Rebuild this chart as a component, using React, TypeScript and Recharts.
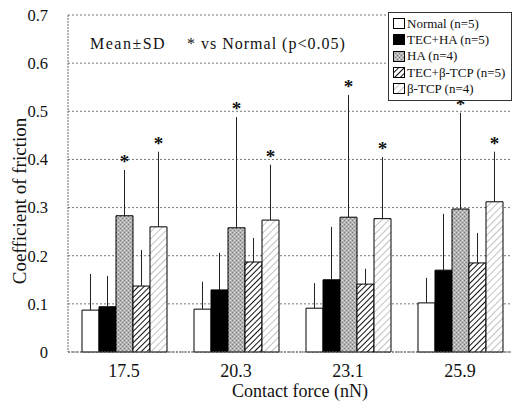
import React from 'react';
import {
  BarChart,
  Bar,
  XAxis,
  YAxis,
  CartesianGrid,
  ErrorBar,
  Legend,
  LabelList,
} from 'recharts';

const forces = ['17.5', '20.3', '23.1', '25.9'];
const yTicks = [0, 0.1, 0.2, 0.3, 0.4, 0.5, 0.6, 0.7];

const normalMean = [0.087, 0.089, 0.091, 0.102];
const normalSd = [0.075, 0.057, 0.052, 0.052];
const tecHaMean = [0.094, 0.129, 0.15, 0.17];
const tecHaSd = [0.064, 0.077, 0.11, 0.117];
const haMean = [0.283, 0.258, 0.28, 0.297];
const haSd = [0.095, 0.23, 0.254, 0.2];
const tecTcpMean = [0.137, 0.187, 0.141, 0.185];
const tecTcpSd = [0.075, 0.05, 0.032, 0.062];
const tcpMean = [0.26, 0.274, 0.277, 0.312];
const tcpSd = [0.156, 0.115, 0.128, 0.104];

const series = [
  { key: 'normal', name: 'Normal (n=5)', fill: '#ffffff', mean: normalMean, sd: normalSd, star: false },
  { key: 'tecHa', name: 'TEC+HA (n=5)', fill: '#000000', mean: tecHaMean, sd: tecHaSd, star: false },
  { key: 'ha', name: 'HA (n=4)', fill: 'url(#stipple)', mean: haMean, sd: haSd, star: true },
  { key: 'tecTcp', name: 'TEC+β-TCP (n=5)', fill: 'url(#hatchDark)', mean: tecTcpMean, sd: tecTcpSd, star: false },
  { key: 'tcp', name: 'β-TCP (n=4)', fill: 'url(#hatchLight)', mean: tcpMean, sd: tcpSd, star: true },
];

const data = forces.map((force, i) => {
  const row: any = { force };
  series.forEach((s) => {
    row[s.key] = s.mean[i];
    row[s.key + 'Err'] = [0, s.sd[i]];
  });
  return row;
});

const serif = 'Liberation Serif, DejaVu Serif, serif';

const Patterns = () => (
  <svg width={0} height={0} style={{ position: 'absolute' }}>
    <defs>
      <pattern id="stipple" width="4" height="4" patternUnits="userSpaceOnUse">
        <rect width="4" height="4" fill="#b4b4b4" />
        <rect x="0" y="0" width="1" height="1" fill="#777" />
        <rect x="2" y="2" width="1" height="1" fill="#808080" />
        <rect x="2" y="0" width="1" height="1" fill="#e0e0e0" />
        <rect x="0" y="2" width="1" height="1" fill="#d8d8d8" />
      </pattern>
      <pattern id="hatchDark" width="4" height="4" patternUnits="userSpaceOnUse" patternTransform="rotate(45)">
        <rect width="4" height="4" fill="#ffffff" />
        <line x1="0" y1="0" x2="0" y2="4" stroke="#111" strokeWidth="2" />
      </pattern>
      <pattern id="hatchLight" width="5" height="5" patternUnits="userSpaceOnUse" patternTransform="rotate(45)">
        <rect width="5" height="5" fill="#ffffff" />
        <line x1="0" y1="0" x2="0" y2="5" stroke="#9a9a9a" strokeWidth="1.2" />
      </pattern>
    </defs>
  </svg>
);

const makeStar = (sd: number[]) => (props: any) => {
  const vb = props.viewBox || props;
  const { x, y, width, height } = vb;
  const value = Number(props.value);
  if (!value || !height) return null;
  const errTop = y - (sd[props.index] * height) / value;
  return (
    <text x={x + width / 2} y={errTop - 2} textAnchor="middle" fontSize={19} fontWeight="bold" fontFamily={serif} fill="#111">
      *
    </text>
  );
};

const LegendBox = () => (
  <div
    style={{
      border: '1px solid #333',
      background: '#fff',
      padding: '3px 2px 3px 4px',
      fontFamily: serif,
      fontSize: 13,
      lineHeight: '16.2px',
      color: '#111',
    }}
  >
    {series.map((s) => (
      <div key={s.key} style={{ display: 'flex', alignItems: 'center', whiteSpace: 'nowrap' }}>
        <svg width={13} height={12} style={{ marginRight: 1 }}>
          <rect x={0.5} y={0.5} width={11} height={10} fill={s.fill} stroke="#000" />
        </svg>
        {s.name}
      </div>
    ))}
  </div>
);

const App = () => {
  return (
    <div style={{ position: 'absolute', left: 0, top: 0, width: 512, height: 406, overflow: 'hidden', background: '#fff' }}>
      <Patterns />
      <BarChart
        width={516}
        height={406}
        data={data}
        margin={{ top: 15, right: 0, left: 0, bottom: 0 }}
        barGap={0}
        barSize={17}
      >
        <CartesianGrid vertical={false} stroke="#777" strokeDasharray="2 2" />
        <XAxis
          dataKey="force"
          height={54}
          tickLine={false}
          tickSize={0}
          tickMargin={12}
          axisLine={{ stroke: '#666', strokeDasharray: '2 1' }}
          tick={{ fontFamily: serif, fontSize: 18, fill: '#111' }}
        />
        <YAxis
          width={68}
          domain={[0, 0.7]}
          ticks={yTicks}
          tickLine={false}
          tickSize={0}
          tickMargin={20}
          axisLine={{ stroke: '#666', strokeDasharray: '2 1' }}
          tick={{ fontFamily: serif, fontSize: 16.5, fill: '#111' }}
          tickFormatter={(v) => String(v)}
        />
        <Legend
          layout="vertical"
          align="center"
          verticalAlign="middle"
          wrapperStyle={{ left: 388, top: 12, width: 124 }}
          content={() => <LegendBox />}
        />
        {series.map((s) => (
          <Bar key={s.key} dataKey={s.key} name={s.name} fill={s.fill} stroke="#000" strokeWidth={1} isAnimationActive={false}>
            <ErrorBar dataKey={s.key + 'Err'} direction="y" width={0} stroke="#222" strokeWidth={1} />
            {s.star && <LabelList dataKey={s.key} content={makeStar(s.sd)} />}
          </Bar>
        ))}
      </BarChart>
      <div style={{ position: 'absolute', left: 90, top: 35, fontFamily: serif, fontSize: 16, letterSpacing: 1.5, color: '#111', whiteSpace: 'nowrap' }}>
        Mean±SD
      </div>
      <div style={{ position: 'absolute', left: 187, top: 35, fontFamily: serif, fontSize: 16, letterSpacing: 1, color: '#111', whiteSpace: 'nowrap' }}>
        * vs Normal (p&lt;0.05)
      </div>
      <div
        style={{
          position: 'absolute',
          left: 20,
          top: 201,
          transform: 'translate(-50%, -50%) rotate(-90deg)',
          fontFamily: serif,
          fontSize: 19,
          color: '#111',
          whiteSpace: 'nowrap',
        }}
      >
        Coefficient of friction
      </div>
      <div
        style={{
          position: 'absolute',
          left: 300,
          top: 381,
          transform: 'translateX(-50%)',
          fontFamily: serif,
          fontSize: 18,
          color: '#111',
          whiteSpace: 'nowrap',
        }}
      >
        Contact force (nN)
      </div>
    </div>
  );
};

export default App;
